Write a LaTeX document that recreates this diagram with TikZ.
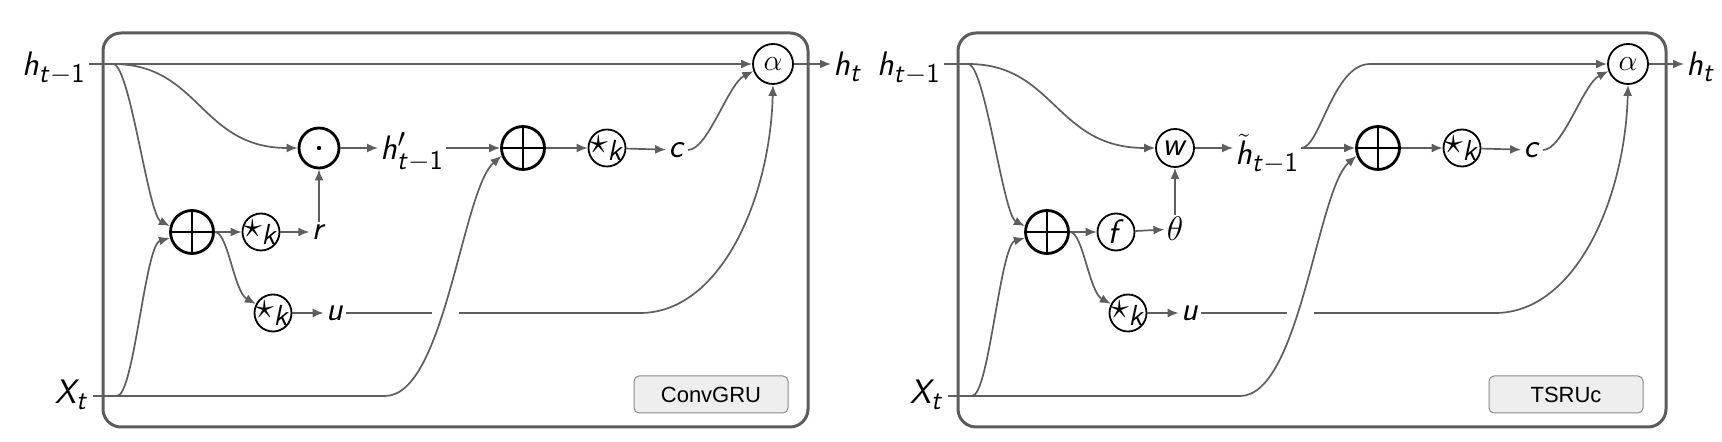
\RequirePackage{fix-cm}
\documentclass[tikz,border=0pt]{standalone}
\usepackage{fontspec}
\newfontfamily\tagfont{Liberation Sans}
\usetikzlibrary{arrows.meta}
\DeclareMathAlphabet{\mathsl}{OT1}{cmss}{m}{sl}
\DeclareMathSizes{17}{17}{13.6}{10}
\DeclareMathSizes{15}{15}{12}{10}
\DeclareMathSizes{19}{19}{14.5}{10}
\newcommand\sv[1]{\mathsl{#1}}
\newcommand\tmo{\sv{t}-\mathsf{1}}
\definecolor{cgray}{HTML}{5E5E5E}
\definecolor{bgray}{HTML}{5C5C5C}
\definecolor{tagfill}{HTML}{EEEEEE}
\definecolor{tagdraw}{HTML}{8A8A8A}
\tikzset{
  panel/.style={draw=bgray, line width=1.5pt, rounded corners=9pt, inner sep=0pt},
  tagbox/.style={draw=tagdraw, fill=tagfill, line width=0.5pt, rounded corners=2.5pt, minimum width=77pt, minimum height=18.5pt, inner sep=0pt, font=\tagfont\fontsize{11}{13}\selectfont},
  lab/.style={inner sep=1pt, font=\fontsize{17}{20}\selectfont},
  ln/.style={draw=cgray, line width=0.85pt},
  arr/.style={ln, -{Latex[length=5.5pt,width=4.5pt]}},
  opl/.style={circle, draw=black, line width=1.4pt, minimum size=21.5pt, inner sep=0pt,
    path picture={\draw[line width=1.4pt] (path picture bounding box.north) -- (path picture bounding box.south) (path picture bounding box.west) -- (path picture bounding box.east);}},
  odt/.style={circle, draw=black, line width=1.4pt, minimum size=20pt, inner sep=0pt,
    path picture={\fill (path picture bounding box.center) circle (1.1pt);}},
  opc/.style={circle, draw=black, line width=0.9pt, minimum size=18.5pt, inner sep=-3pt, font=\fontsize{17}{20}\selectfont},
  ops/.style={circle, draw=black, line width=0.9pt, minimum size=18.5pt, inner sep=-3pt, font=\fontsize{19}{22}\selectfont},
  opa/.style={circle, draw=black, line width=0.9pt, minimum size=20pt, inner sep=0pt, font=\fontsize{15}{18}\selectfont},
}
\begin{document}
\begin{tikzpicture}[x=0.5pt,y=-0.5pt]
\useasboundingbox (0,0) rectangle (1722,442);
% ---------------- left panel: ConvGRU ----------------
\node[panel, minimum width=352.5pt, minimum height=197pt] (Lbox) at (455.5,230) {};
\node[tagbox] (Ltag) at (711,394.5) {ConvGRU};
\node[lab, anchor=base east] (Lh1) at (88,76) {$\sv{h}_{\tmo}$};
\node[lab, anchor=base east] (LX) at (91,404) {$\sv{X}_{\sv{t}}$};
\coordinate (Lh1p) at (89,64);
\coordinate (Lbr) at (113,64);
\coordinate (LXp) at (93,396);
\coordinate (LXb) at (117,396);
\node[opa] (La) at (773,64) {$\alpha$};
\node[lab, anchor=base west] (Lht) at (831,76) {$\sv{h}_{\sv{t}}$};
\node[odt] (Lod) at (319,148) {};
\node[lab, anchor=base west] (Lhp) at (378,160) {$\sv{h}'_{\tmo}$};
\node[opl] (Lop2) at (523,148) {};
\node[ops] (LsT) at (607,148) {$\star_{\sv{k}}$};
\node[lab] (Lc) at (677,150) {$\sv{c}$};
\node[opl] (Lop1) at (192,232) {};
\node[ops] (LsM) at (261,232) {$\star_{\sv{k}}$};
\node[lab] (Lr) at (319,232) {$\sv{r}$};
\node[ops] (LsB) at (273,313) {$\star_{\sv{k}}$};
\node[lab] (Lu) at (335,313) {$\sv{u}$};
\coordinate (Lg1) at (432,313);
\coordinate (Lg2) at (459,313);
\draw[arr] (Lh1p) -- (Lh1p -| La.west);
\draw[arr] (Lbr) .. controls (200,64) and (200,148) .. (Lod.west);
\draw[arr] (Lbr) .. controls (130,64) and (148,215) .. (Lop1.165);
\draw[arr] (LXb) .. controls (134,396) and (145,245) .. (Lop1.195);
\draw[arr] (LXp) -- (385,396) .. controls (445,396) and (462,190) .. (Lop2.200);
\draw[arr] (La.east) -- (La.east -| Lht.west);
\draw[arr] (Lod.east) -- (Lod.east -| Lhp.west);
\draw[arr] (Lop2 -| Lhp.east) -- (Lop2.west);
\draw[arr] (Lop2) -- (LsT);
\draw[arr] (LsT) -- (Lc);
\draw[arr] (Lc.east) .. controls (708,150) and (728,84) .. (La.200);
\draw[arr] (Lop1) -- (LsM);
\draw[arr] (LsM) -- (Lr);
\draw[arr] (Lr) -- (Lod);
\draw[arr] (Lop1.east) .. controls (228,232) and (234,292) .. (LsB.152);
\draw[arr] (LsB) -- (Lu);
\draw[ln] (Lu.east) -- (Lg1);
\draw[arr] (Lg2) -- (640,313) .. controls (720,313) and (770,200) .. (La.south);
% ---------------- right panel: TSRUc ----------------
\begin{scope}[shift={(855,0)}]
\node[panel, minimum width=354pt, minimum height=197pt] (Rbox) at (457,230) {};
\node[tagbox] (Rtag) at (711,394.5) {TSRUc};
\node[lab, anchor=base east] (Rh1) at (88,76) {$\sv{h}_{\tmo}$};
\node[lab, anchor=base east] (RX) at (91,404) {$\sv{X}_{\sv{t}}$};
\coordinate (Rh1p) at (89,64);
\coordinate (Rbr) at (113,64);
\coordinate (RXp) at (93,396);
\coordinate (RXb) at (117,396);
\node[opa] (Ra) at (773,64) {$\alpha$};
\node[lab, anchor=base west] (Rht) at (829,76) {$\sv{h}_{\sv{t}}$};
\node[opc, minimum size=19pt] (Rw) at (320,148) {$\sv{w}$};
\node[lab, anchor=base west] (Rth) at (378,165) {$\tilde{\sv{h}}_{\tmo}$};
\node[opl] (Rop2) at (523,148) {};
\node[ops] (RsT) at (607,148) {$\star_{\sv{k}}$};
\node[lab] (Rc) at (677,150) {$\sv{c}$};
\node[opl] (Rop1) at (192,232) {};
\node[opc] (Rf) at (261,232) {$\sv{f}$};
\node[lab] (Rtheta) at (320,229) {$\theta$};
\node[ops] (RsB) at (273,313) {$\star_{\sv{k}}$};
\node[lab] (Ru) at (335,313) {$\sv{u}$};
\coordinate (Rg1) at (432,313);
\coordinate (Rg2) at (459,313);
\coordinate (Rsp) at (Rth.east |- Rop2);
\draw[ln] (Rh1p) -- (Rbr);
\draw[arr] (Rbr) .. controls (200,64) and (200,148) .. (Rw.west);
\draw[arr] (Rbr) .. controls (130,64) and (148,215) .. (Rop1.165);
\draw[arr] (RXb) .. controls (134,396) and (145,245) .. (Rop1.195);
\draw[arr] (RXp) -- (385,396) .. controls (445,396) and (462,190) .. (Rop2.200);
\draw[arr] (Ra.east) -- (Ra.east -| Rht.west);
\draw[arr] (Rw.east) -- (Rw.east -| Rth.west);
\draw[arr] (Rsp) -- (Rop2.west);
\draw[arr] (Rsp) .. controls (465,148) and (478,64) .. (515,64) -- (Ra.west);
\draw[arr] (Rop2) -- (RsT);
\draw[arr] (RsT) -- (Rc);
\draw[arr] (Rc.east) .. controls (708,150) and (728,84) .. (Ra.200);
\draw[arr] (Rop1) -- (Rf);
\draw[arr] (Rf) -- (Rtheta);
\draw[arr] (Rtheta) -- (Rw);
\draw[arr] (Rop1.east) .. controls (228,232) and (234,292) .. (RsB.152);
\draw[arr] (RsB) -- (Ru);
\draw[ln] (Ru.east) -- (Rg1);
\draw[arr] (Rg2) -- (640,313) .. controls (720,313) and (770,200) .. (Ra.south);
\end{scope}
\end{tikzpicture}
\end{document}
